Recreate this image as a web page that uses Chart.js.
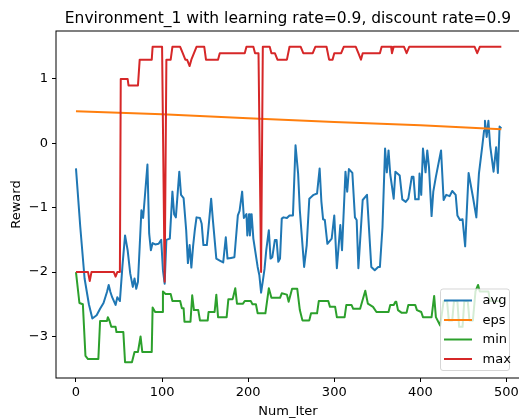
<!DOCTYPE html>
<html>
<head>
<meta charset="utf-8">
<script src="https://cdn.jsdelivr.net/npm/chart.js@4.4.1/dist/chart.umd.min.js"></script>
<style>
  html, body { margin: 0; padding: 0; overflow: hidden; background: #fff; }
</style>
</head>
<body>
<canvas id="rewardChart" width="522" height="419"></canvas>
<script>
// 目盛り
const xTicks = [0, 100, 200, 300, 400, 500];
const yTicks = [-3, -2, -1, 0, 1];

const chartTitle = 'Environment_1 with learning rate=0.9, discount rate=0.9';

// avg
const avgIter = [0, 5, 10, 15, 19, 24, 28, 32, 36, 38, 40, 42, 46, 48, 51, 54, 57, 60, 63, 66,
  68, 70, 72, 74, 76, 78, 80, 83, 85, 87, 89, 92, 96, 99, 101, 103, 105, 109, 112, 114,
  116, 120, 122, 125, 128, 130, 132, 134, 136, 138, 140, 144, 146, 148, 152, 154, 157, 159, 163, 167,
  171, 174, 176, 180, 184, 188, 190, 193, 195, 198, 199, 201, 202, 204, 206, 211, 213, 215, 217, 219,
  221, 224, 226, 228, 231, 233, 235, 237, 239, 241, 245, 248, 252, 255, 258, 260, 265, 268, 271, 276,
  280, 283, 285, 287, 289, 292, 297, 300, 303, 307, 309, 313, 315, 317, 321, 324, 326, 328, 333, 338,
  343, 347, 351, 353, 356, 359, 361, 363, 365, 369, 371, 376, 379, 383, 386, 390, 392, 394, 398, 399,
  401, 403, 406, 408, 410, 413, 415, 418, 424, 427, 430, 434, 437, 441, 443, 446, 449, 452, 456, 461,
  465, 468, 472, 474, 475, 477, 479, 481, 485, 488, 490, 492, 494];
const avgReward = [-0.39, -1.30, -2.10, -2.50, -2.72, -2.67, -2.57, -2.48, -2.31, -2.20, -2.31, -2.39, -2.51, -2.39, -2.45, -1.90, -1.43, -1.66, -2.02, -2.23,
  -2.10, -2.26, -2.15, -1.60, -1.04, -1.16, -0.83, -0.33, -1.40, -1.66, -1.55, -1.57, -1.56, -1.50, -1.97, -2.18, -1.50, -1.48, -0.75, -1.10,
  -1.15, -0.44, -0.80, -0.85, -1.35, -1.86, -1.58, -1.93, -1.60, -1.35, -1.15, -1.16, -1.25, -1.58, -1.58, -1.30, -0.86, -1.19, -1.79, -1.82,
  -1.85, -1.46, -1.79, -1.78, -1.77, -1.12, -1.05, -0.75, -1.16, -1.10, -1.43, -1.10, -1.43, -1.10, -1.48, -1.92, -2.05, -2.32, -2.14, -1.95,
  -1.66, -1.35, -1.79, -1.77, -1.50, -1.50, -1.84, -1.79, -1.17, -1.15, -1.16, -1.12, -1.12, -0.03, -0.47, -1.04, -1.92, -1.58, -0.86, -0.80,
  -0.78, -0.39, -0.90, -1.18, -1.19, -1.56, -1.48, -1.12, -1.94, -1.27, -1.66, -0.44, -0.75, -0.40, -0.46, -1.15, -1.19, -1.94, -0.88, -0.80,
  -1.92, -1.97, -1.92, -1.92, -1.30, -0.08, -0.45, -0.11, -0.48, -0.86, -0.44, -0.50, -0.87, -0.91, -0.86, -0.52, -0.52, -0.87, -0.87, -0.47,
  -0.80, -0.08, -0.45, -0.11, -0.37, -1.13, -0.75, -0.52, -0.11, -0.88, -0.80, -0.82, -0.74, -0.80, -1.12, -1.19, -1.18, -1.60, -0.46, -0.83,
  -1.15, -0.47, -0.03, 0.20, 0.35, 0.10, 0.35, -0.03, -0.44, -0.06, -0.46, 0.26, 0.23];

// eps
const epsIter = [0, 100, 200, 300, 400, 494];
const epsValue = [0.50, 0.45, 0.39, 0.33, 0.28, 0.22];

// min
const minIter = [0, 4, 8, 11, 14, 26, 28, 36, 37, 39, 41, 46, 47, 55, 57, 65, 68, 72, 75, 77,
  88, 89, 92, 100, 101, 104, 110, 112, 121, 123, 125, 126, 133, 135, 137, 142, 144, 153, 154, 161,
  163, 165, 175, 177, 182, 185, 187, 194, 196, 203, 205, 209, 211, 220, 224, 227, 237, 239, 245, 247,
  251, 257, 260, 263, 271, 273, 280, 282, 293, 295, 301, 303, 312, 314, 320, 322, 330, 336, 339, 345,
  349, 363, 365, 369, 371, 372, 374, 378, 384, 386, 394, 396, 401, 403, 413, 416, 418, 423, 427, 431,
  433, 437, 439, 443, 445, 449, 451, 455, 457, 461, 464, 467, 469, 479, 481, 494];
const minReward = [-2.00, -2.48, -2.50, -3.30, -3.35, -3.35, -2.76, -2.76, -2.70, -2.76, -2.85, -2.85, -2.93, -2.93, -3.40, -3.40, -3.24, -3.24, -3.00, -3.24,
  -3.24, -2.55, -2.62, -2.62, -2.30, -2.34, -2.34, -2.45, -2.45, -2.56, -2.56, -2.77, -2.77, -2.36, -2.59, -2.59, -2.75, -2.75, -2.62, -2.62,
  -2.35, -2.70, -2.70, -2.42, -2.42, -2.25, -2.49, -2.49, -2.45, -2.45, -2.50, -2.50, -2.64, -2.64, -2.25, -2.40, -2.40, -2.33, -2.35, -2.46,
  -2.26, -2.26, -2.59, -2.75, -2.75, -2.64, -2.64, -2.45, -2.45, -2.54, -2.54, -2.70, -2.70, -2.51, -2.51, -2.57, -2.57, -2.29, -2.49, -2.54,
  -2.62, -2.62, -2.51, -2.51, -2.46, -2.46, -2.59, -2.63, -2.63, -2.51, -2.51, -2.59, -2.62, -2.70, -2.70, -2.37, -2.70, -2.83, -2.45, -2.45,
  -2.75, -2.75, -2.45, -2.45, -2.85, -2.85, -2.45, -2.45, -2.75, -2.75, -2.30, -2.20, -2.30, -2.30, -2.45, -2.45];

// max
const maxIter = [0, 14, 16, 18, 44, 46, 48, 51, 52, 60, 61, 72, 74, 88, 89, 100, 103, 105, 110, 112,
  121, 124, 127, 129, 132, 134, 140, 149, 151, 165, 167, 196, 198, 206, 208, 212, 215, 217, 225, 227,
  231, 234, 245, 248, 261, 264, 275, 278, 291, 294, 298, 300, 308, 311, 325, 328, 331, 333, 353, 355,
  366, 367, 369, 381, 384, 387, 463, 466, 469, 494];
const maxReward = [-2.00, -2.00, -2.14, -2.00, -2.00, -2.07, -2.00, -2.00, 1.00, 1.00, 0.90, 0.90, 1.30, 1.30, 1.50, 1.50, -2.15, 1.30, 1.30, 1.50,
  1.50, 1.40, 1.30, 1.30, 1.20, 1.30, 1.50, 1.50, 1.30, 1.30, 1.40, 1.40, 1.50, 1.50, 1.40, 1.40, -2.00, 1.50, 1.50, 1.40,
  1.40, 1.30, 1.30, 1.50, 1.50, 1.40, 1.40, 1.50, 1.50, 1.30, 1.30, 1.40, 1.40, 1.50, 1.50, 1.40, 1.30, 1.40, 1.40, 1.50,
  1.50, 1.40, 1.50, 1.50, 1.40, 1.50, 1.50, 1.40, 1.50, 1.50];

function toPoints(iters, values) {
  return iters.map((x, i) => ({ x: x, y: values[i] }));
}

function lineSet(label, iters, values, color, order) {
  return {
    label: label,
    data: toPoints(iters, values),
    borderColor: color,
    backgroundColor: color,
    borderWidth: 2,
    borderJoinStyle: 'round',
    pointRadius: 0,
    tension: 0,
    fill: false,
    order: order
  };
}

Chart.defaults.font.family = '"DejaVu Sans", sans-serif';
Chart.defaults.color = '#000';

// 枠線・タイトル・凡例 (matplotlib風)
const mplDecor = {
  id: 'mplDecor',
  afterDatasetsDraw(chart) {
    const a = chart.chartArea;
    const ctx = chart.ctx;
    ctx.save();
    ctx.strokeStyle = '#000';
    ctx.lineWidth = 1;
    ctx.strokeRect(a.left, a.top, a.right - a.left, a.bottom - a.top);
    ctx.restore();
  },
  afterDraw(chart) {
    const a = chart.chartArea;
    const ctx = chart.ctx;
    ctx.save();
    // title
    ctx.fillStyle = '#000';
    ctx.font = '15.5px "DejaVu Sans"';
    ctx.textAlign = 'center';
    ctx.textBaseline = 'alphabetic';
    ctx.fillText(chartTitle, (a.left + a.right) / 2, 23);

    // legend box
    const boxW = 69, boxH = 81.5;
    const right = a.right - 10.5, bottom = a.bottom - 7.5;
    const left = right - boxW, top = bottom - boxH;
    ctx.beginPath();
    ctx.roundRect(left, top, boxW, boxH, 2.5);
    ctx.fillStyle = 'rgba(255,255,255,0.8)';
    ctx.fill();
    ctx.strokeStyle = 'rgba(204,204,204,0.8)';
    ctx.lineWidth = 1;
    ctx.stroke();

    ctx.font = '13px "DejaVu Sans"';
    ctx.textAlign = 'left';
    ctx.textBaseline = 'middle';
    chart.data.datasets.forEach((ds, i) => {
      const y = top + 11.5 + i * 19.5;
      ctx.beginPath();
      ctx.moveTo(left + 3.5, y);
      ctx.lineTo(left + 31.5, y);
      ctx.strokeStyle = ds.borderColor;
      ctx.lineWidth = 2;
      ctx.stroke();
      ctx.fillStyle = '#000';
      ctx.fillText(ds.label, left + 42, y + 0.5);
    });
    ctx.restore();
  }
};

let ctx = document.getElementById('rewardChart');

let config = {
  type: 'line',
  data: {
    datasets: [
      lineSet('avg', avgIter, avgReward, '#1f77b4', 3),
      lineSet('eps', epsIter, epsValue, '#ff7f0e', 2),
      lineSet('min', minIter, minReward, '#2ca02c', 1),
      lineSet('max', maxIter, maxReward, '#d62728', 0)
    ]
  },
  options: {
    responsive: false,
    animation: false,
    events: [],
    layout: {
      padding: { top: 31, right: 2, bottom: 0, left: 0 }
    },
    plugins: {
      legend: { display: false },
      title: { display: false },
      tooltip: { enabled: false }
    },
    scales: {
      x: {
        type: 'linear',
        min: -23.2,
        max: 515.7,
        afterBuildTicks: (s) => { s.ticks = xTicks.map(v => ({ value: v })); },
        afterFit: (s) => { s.height = 41; },
        ticks: { font: { size: 13 }, padding: 3, maxRotation: 0, autoSkip: false, color: '#000' },
        grid: { display: true, drawOnChartArea: false, drawTicks: true, tickLength: 4, color: '#000', lineWidth: 1 },
        border: { display: false },
        title: { display: true, text: 'Num_Iter', font: { size: 13 }, color: '#000', padding: { top: 0, bottom: 0 } }
      },
      y: {
        type: 'linear',
        min: -3.645,
        max: 1.745,
        afterBuildTicks: (s) => { s.ticks = yTicks.map(v => ({ value: v })); },
        afterFit: (s) => { s.width = 56; },
        ticks: {
          font: { size: 13 },
          padding: 4,
          autoSkip: false,
          color: '#000',
          callback: (v) => (v < 0 ? '\u2212' + Math.abs(v) : String(v))
        },
        grid: { display: true, drawOnChartArea: false, drawTicks: true, tickLength: 4, color: '#000', lineWidth: 1 },
        border: { display: false },
        title: { display: true, text: 'Reward', font: { size: 13 }, color: '#000', padding: { top: 8.5, bottom: 0 } }
      }
    }
  },
  plugins: [mplDecor]
};

let rewardChart = new Chart(ctx, config);
</script>
</body>
</html>
